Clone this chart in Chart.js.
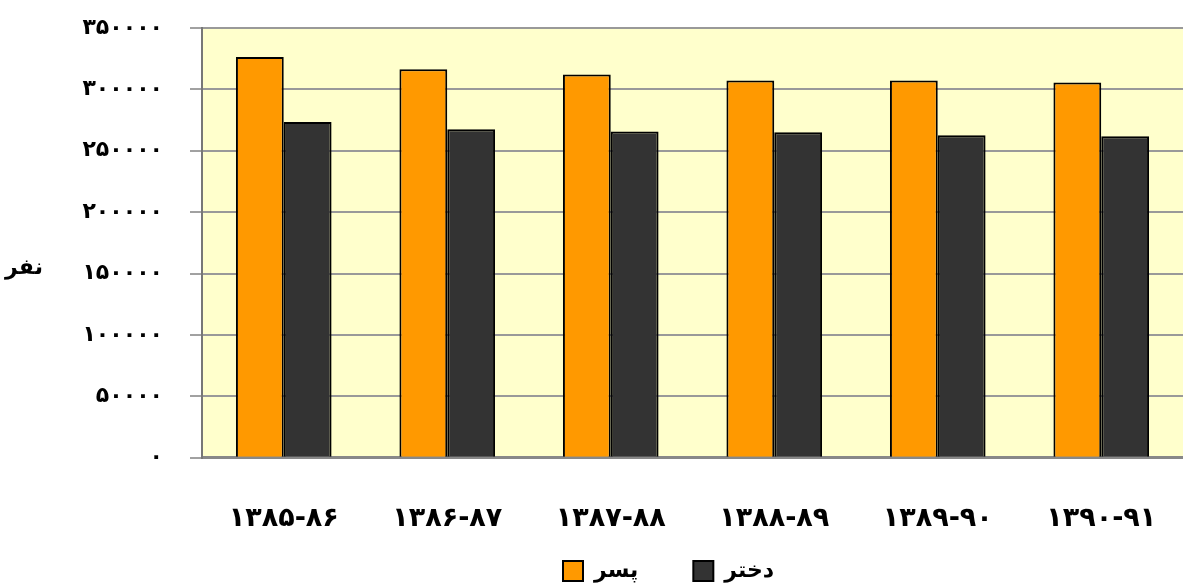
<!DOCTYPE html>
<html>
<head>
<meta charset="utf-8">
<script src="https://cdn.jsdelivr.net/npm/chart.js@4"></script>
<style>
html,body{margin:0;padding:0;background:#fff;}
#wrap{width:1183px;height:583px;position:relative;}
</style>
</head>
<body>
<div id="wrap"><canvas id="c"></canvas></div>
<script>
const categories = ['۱۳۸۵-۸۶', '۱۳۸۶-۸۷', '۱۳۸۷-۸۸', '۱۳۸۸-۸۹', '۱۳۸۹-۹۰', '۱۳۹۰-۹۱'];
const boys = [326300, 316500, 312100, 307300, 307200, 305600];
const girls = [273500, 267600, 265600, 265100, 262700, 261900];
const seriesNames = ['پسر', 'دختر'];
const yTitle = 'نفر';
const yMin = 0, yMax = 350000, yStep = 50000;

const faDigits = '۰۱۲۳۴۵۶۷۸۹';
function toFa(n){ return String(n).replace(/\d/g, d => faDigits[d]); }

const FONT = '"DejaVu Sans", sans-serif';
Chart.defaults.font.family = FONT;
Chart.defaults.color = '#000';

const LEGEND_PAD = 55;

const bgPlugin = {
  id: 'bg',
  beforeDraw(chart){
    const {ctx, chartArea:a} = chart;
    ctx.save();
    ctx.fillStyle = '#FFFFCC';
    ctx.fillRect(a.left, a.top, a.right - a.left, a.bottom - a.top);
    ctx.restore();
  },
  afterLayout(chart){
    const lg = chart.legend;
    if (!lg) return;
    // legend row sits under the category labels, as in the reference
    lg.top = 560 - LEGEND_PAD;
    lg.bottom = chart.height;
    lg.height = lg.bottom - lg.top;
    const start = (lg.left + LEGEND_PAD + lg.right - lg.lineWidths[0]) / 2;
    const dx = 563 - start;
    lg.left += dx; lg.right += dx;
  },
  afterDraw(chart){
    const ctx = chart.ctx;
    ctx.save();
    ctx.font = 'bold 22px ' + FONT;
    ctx.fillStyle = '#000';
    ctx.textAlign = 'center';
    ctx.textBaseline = 'middle';
    ctx.fillText(yTitle, 24, 268);
    ctx.restore();
  }
};

new Chart(document.getElementById('c'), {
  type: 'bar',
  data: {
    labels: categories,
    datasets: [
      { label: seriesNames[0], data: boys, backgroundColor: '#FF9900', borderColor: '#000', borderWidth: 2 },
      { label: seriesNames[1], data: girls, backgroundColor: '#333333', borderColor: '#000', borderWidth: 2 }
    ]
  },
  options: {
    responsive: true,
    maintainAspectRatio: false,
    devicePixelRatio: 1,
    animation: false,
    layout: { padding: { top: 28, right: 0, left: 0, bottom: 0 } },
    datasets: { bar: { categoryPercentage: 0.585, barPercentage: 1.0 } },
    plugins: {
      tooltip: { enabled: false },
      legend: {
        position: 'bottom',
        maxHeight: 43.9,
        labels: {
          font: { size: 22, weight: 'bold' },
          boxWidth: 20, boxHeight: 20,
          padding: LEGEND_PAD,
          color: '#000'
        }
      }
    },
    scales: {
      x: {
        grid: { display: true, drawOnChartArea: false, drawTicks: true, tickLength: 41, color: 'rgba(0,0,0,0)', tickColor: 'rgba(0,0,0,0)' },
        border: { display: true, color: '#888888', width: 3 },
        ticks: { font: { size: 27, weight: 'bold' }, padding: 4, color: '#000', maxRotation: 0, autoSkip: false }
      },
      y: {
        min: yMin, max: yMax,
        ticks: { stepSize: yStep, font: { size: 22, weight: 'bold' }, padding: 27, color: '#000',
                 callback: v => toFa(v) },
        grid: { color: '#999999', lineWidth: 2, drawTicks: true, tickLength: 12, tickColor: '#444444', tickWidth: 1 },
        border: { display: true, color: '#777777', width: 2 },
        afterFit(s){ s.width = 202; s.paddingTop = 0; s.paddingBottom = 0; }
      }
    }
  },
  plugins: [bgPlugin]
});
</script>
</body>
</html>
